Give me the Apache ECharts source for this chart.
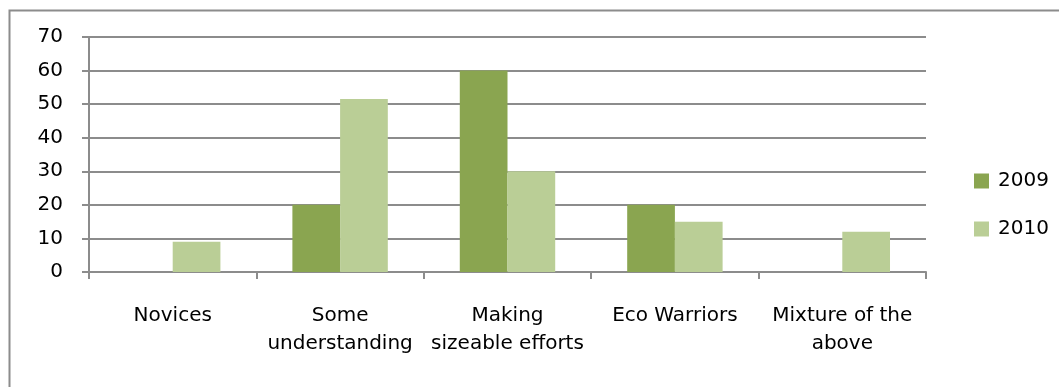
<!DOCTYPE html>
<html>
<head>
<meta charset="utf-8">
<style>
  html, body { margin: 0; padding: 0; background: #fff; }
  #chart { width: 1059px; height: 387px; }
</style>
<script src="https://cdn.jsdelivr.net/npm/echarts@6/dist/echarts.min.js"></script>
</head>
<body>
<div id="chart"></div>
<script>
// Categories and survey values (percent of respondents)
const categories = ['Novices', 'Some\nunderstanding', 'Making\nsizeable efforts', 'Eco Warriors', 'Mixture of the\nabove'];
const series2009 = [0, 20, 60, 20, 0];
const series2010 = [9, 51.5, 30, 15, 12];
const seriesNames = ['2009', '2010'];
const yTicks = [0, 10, 20, 30, 40, 50, 60, 70];

const FONT = '"DejaVu Sans", "Noto Sans", sans-serif';
const GRID_COLOR = '#8c8c8c';

const chart = echarts.init(document.getElementById('chart'), null, { renderer: 'canvas' });

chart.setOption({
  animation: false,
  backgroundColor: '#fff',
  textStyle: { fontFamily: FONT },
  // outer chart frame, running off the right and bottom edges
  graphic: [{
    type: 'rect',
    left: 7, top: 8,
    shape: { width: 1200, height: 500 },
    style: { fill: 'none', stroke: '#8c8c8c', lineWidth: 2 },
    silent: true
  }],
  grid: { left: 89, right: 133, top: 37, bottom: 115, containLabel: false },
  legend: {
    orient: 'vertical',
    left: 969, top: 166,
    itemWidth: 15, itemHeight: 15,
    itemGap: 28,
    icon: 'rect',
    textStyle: { fontSize: 20, color: '#000', fontFamily: FONT, padding: [0, 0, 0, 4] },
    data: seriesNames
  },
  xAxis: {
    type: 'category',
    data: categories,
    axisLine: { lineStyle: { color: GRID_COLOR, width: 2 } },
    axisTick: { show: true, length: 7, lineStyle: { color: GRID_COLOR, width: 2 } },
    axisLabel: { fontSize: 20, color: '#000', lineHeight: 28, margin: 30, interval: 0 }
  },
  yAxis: {
    type: 'value',
    min: 0, max: 70, interval: 10,
    axisLine: { show: true, lineStyle: { color: GRID_COLOR, width: 2 } },
    axisTick: { show: true, inside: false, length: 7, lineStyle: { color: GRID_COLOR, width: 2 } },
    splitLine: { lineStyle: { color: GRID_COLOR, width: 2 } },
    axisLabel: {
      fontSize: 20, color: '#000', margin: 26,
      formatter: v => yTicks.includes(v) ? String(v) : ''
    }
  },
  series: [
    {
      name: seriesNames[0], type: 'bar', data: series2009,
      barGap: '0%', barCategoryGap: '43%',
      itemStyle: { color: '#8aa550' }
    },
    {
      name: seriesNames[1], type: 'bar', data: series2010,
      barGap: '0%', barCategoryGap: '43%',
      itemStyle: { color: '#bace96' }
    }
  ]
});
</script>
</body>
</html>
